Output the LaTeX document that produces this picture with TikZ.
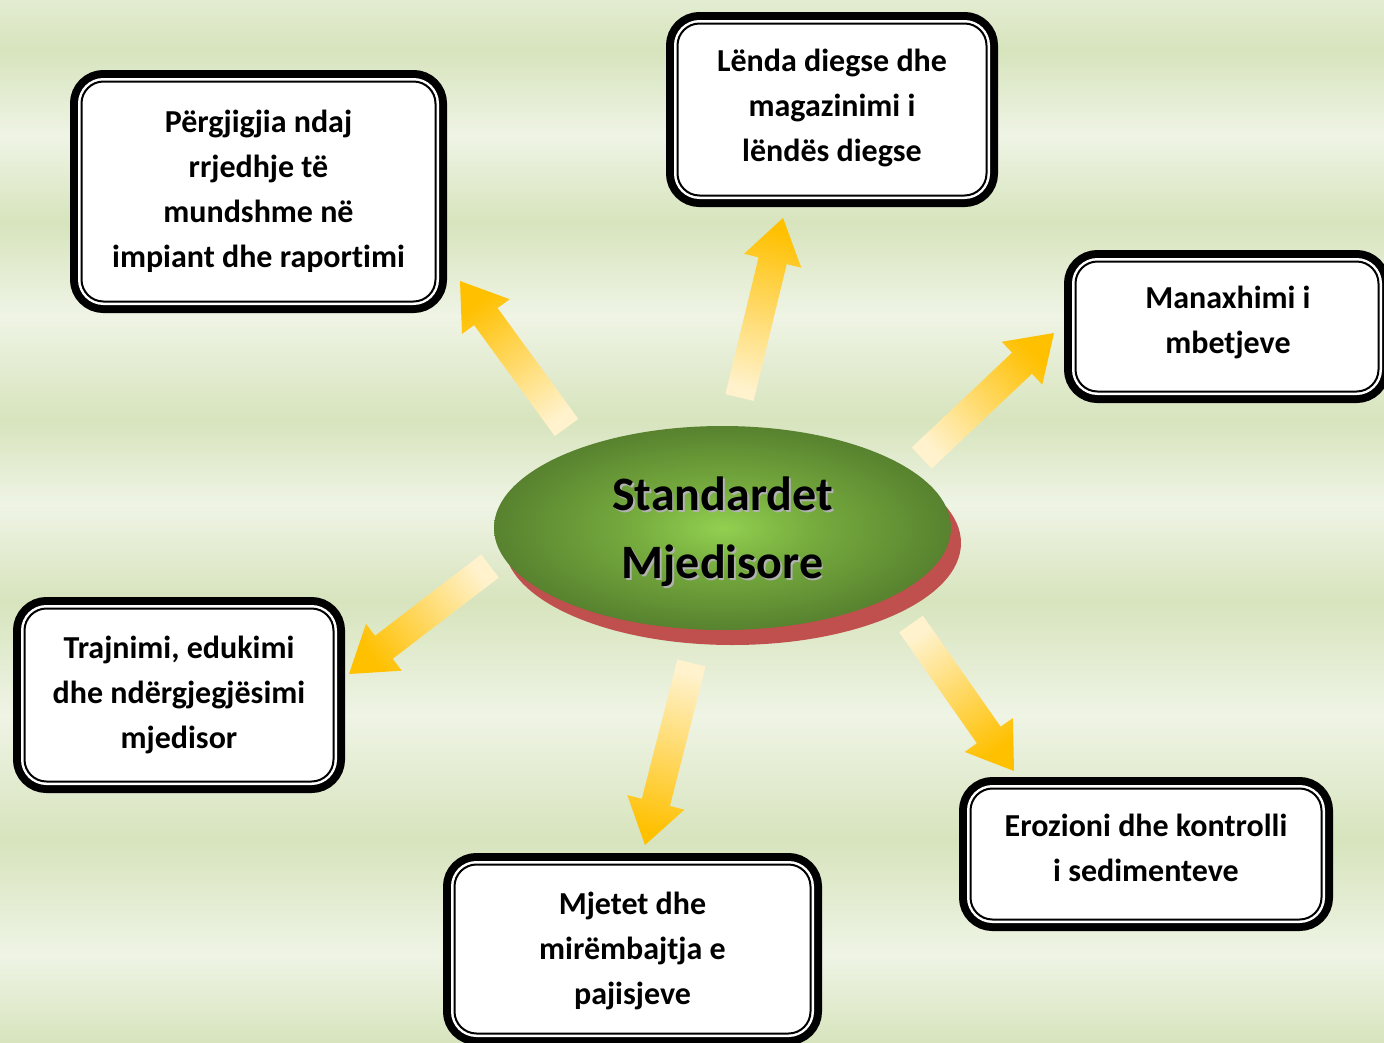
\documentclass[tikz,border=0pt]{standalone}
\usepackage{fontspec}
\setmainfont{Carlito}[Ligatures=NoCommon]
\usetikzlibrary{calc}
\definecolor{bgG}{HTML}{D7E4BD}
\definecolor{bgL}{HTML}{EFF4E5}
\definecolor{bgM}{HTML}{E3ECD1}
\definecolor{arrTail}{HTML}{FFF2CC}
\definecolor{arrHead}{HTML}{FFC000}
\definecolor{gIn}{HTML}{92D050}
\definecolor{gMid}{HTML}{76AB3E}
\definecolor{gOut}{HTML}{58822F}
\definecolor{shadowRed}{HTML}{C0504D}
\pgfdeclareradialshading{ellshade}{\pgfpoint{0bp}{0bp}}{color(0bp)=(gIn); color(10bp)=(gMid); color(25bp)=(gOut); color(50bp)=(gOut)}
\newcommand\boxfont{\bfseries\fontsize{32}{45}\selectfont}
\newcommand\titlefont{\bfseries\fontsize{48}{68}\selectfont}
\newcommand\blockarr[2]{%
  \pgfmathanglebetweenpoints{\pgfpointanchor{#1}{center}}{\pgfpointanchor{#2}{center}}%
  \pgfmathsetmacro\barang{\pgfmathresult-90}%
  \coordinate (#1-b) at ($(#2)!44pt!(#1)$);
  \shade[top color=arrHead, bottom color=arrTail, shading angle=\barang]
    ($(#1)!14.5pt!90:(#2)$) -- ($(#1-b)!14.5pt!90:(#2)$) -- ($(#1-b)!29.5pt!90:(#2)$)
    -- (#2) -- ($(#1-b)!29.5pt!-90:(#2)$) -- ($(#1-b)!14.5pt!-90:(#2)$)
    -- ($(#1)!14.5pt!-90:(#2)$) -- cycle;
}
\tikzset{
  infobox/.style={draw=black, line width=2pt, fill=white, rounded corners=22pt,
    inner sep=0pt, align=center, font=\boxfont,
    preaction={draw=black, line width=23pt},
    preaction={draw=white, line width=7pt}},
  boxtext/.style={inner sep=0pt, align=center, font=\boxfont}
}
\begin{document}
\begin{tikzpicture}[x=1pt,y=-1pt]
\useasboundingbox (0,0) rectangle (1384,1042);
\clip (0,0) rectangle (1384,1042);
% background bands
\foreach \ya/\ca/\yb/\cb in {0/bgM/50/bgG, 50/bgG/135/bgL, 135/bgL/222/bgG, 222/bgG/315/bgL,
  315/bgL/420/bgG, 420/bgG/505/bgL, 505/bgL/600/bgG, 600/bgG/715/bgL, 715/bgL/840/bgG,
  840/bgG/955/bgL, 955/bgL/1042/bgG}
  \shade[top color=\ca, bottom color=\cb] (-1,\ya) rectangle (1385,\yb+1);

% arrows
\coordinate (a1t) at (566.5,427.5); \coordinate (a1h) at (460,281);
\coordinate (a2t) at (739.5,397.5); \coordinate (a2h) at (783,218);
\coordinate (a3t) at (921.7,458);   \coordinate (a3h) at (1054,333);
\coordinate (a4t) at (490,566);     \coordinate (a4h) at (349,674);
\coordinate (a5t) at (691.5,663);   \coordinate (a5h) at (645,845);
\coordinate (a6t) at (911,624);     \coordinate (a6h) at (1014,771);
\blockarr{a1t}{a1h}
\blockarr{a2t}{a2h}
\blockarr{a3t}{a3h}
\blockarr{a4t}{a4h}
\blockarr{a5t}{a5h}
\blockarr{a6t}{a6h}

% central ellipse
\coordinate (ec) at (722.5,528);
\fill[shadowRed] ($(ec)+(10,15)$) ellipse (228.5pt and 102pt);
\shade[shading=ellshade] (ec) ellipse (228.5pt and 102pt);
\node[font=\titlefont, align=center, text=black!30] (cs) at ($(ec)+(1.8,5.8)$) {Standardet\\Mjedisore};
\node[font=\titlefont, align=center] (c) at ($(ec)+(0,4)$) {Standardet\\Mjedisore};

% boxes
\node[infobox, minimum width=354pt, minimum height=220pt] (b1) at (258.5,191.5)
  {Përgjigjia ndaj\\rrjedhje të\\mundshme në\\impiant dhe raportimi};
\node[infobox, minimum width=309pt, minimum height=172pt] (b2) at (832,109.5) {};
\node[boxtext] (t2) at ($(b2)+(0,-2)$) {Lënda diegse dhe\\magazinimi i\\lëndës diegse};
\node[infobox, minimum width=303pt, minimum height=130pt] (b3) at (1227,326.5) {};
\node[boxtext] (t3) at ($(b3)+(1,-4)$) {Manaxhimi i\\mbetjeve};
\node[infobox, minimum width=309pt, minimum height=173pt] (b4) at (179,695)
  {Trajnimi, edukimi\\dhe ndërgjegjësimi\\mjedisor};
\node[infobox, minimum width=356pt, minimum height=169pt] (b5) at (632.5,949) {};
\node[boxtext] (t5) at ($(b5)+(0,2)$) {Mjetet dhe\\mirëmbajtja e\\pajisjeve};
\node[infobox, minimum width=351pt, minimum height=131pt] (b6) at (1146,854) {};
\node[boxtext] (t6) at ($(b6)+(0,-6)$) {Erozioni dhe kontrolli\\i sedimenteve};
\end{tikzpicture}
\end{document}
